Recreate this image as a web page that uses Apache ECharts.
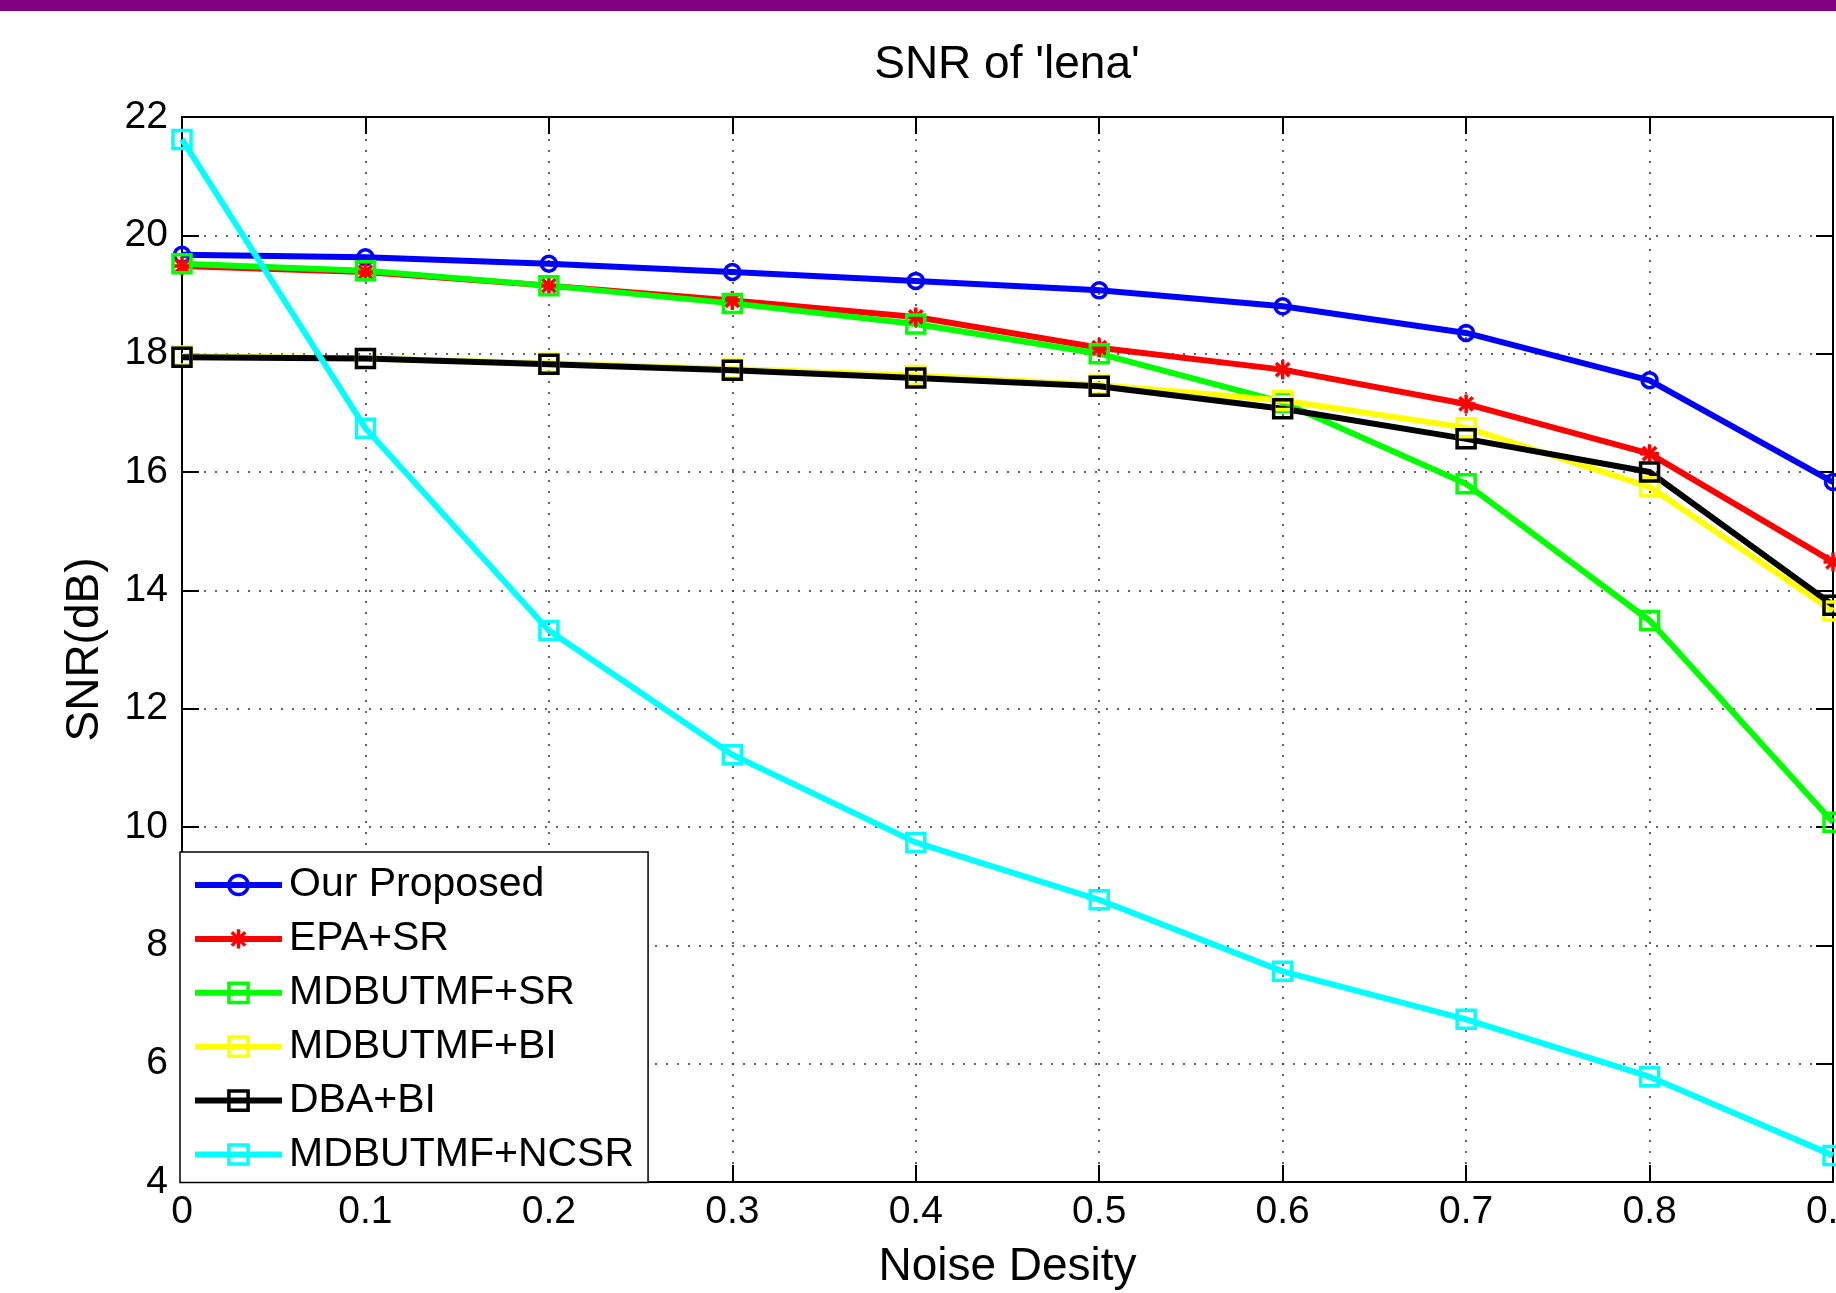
<!DOCTYPE html>
<html>
<head>
<meta charset="utf-8">
<title>SNR of 'lena'</title>
<script src="https://cdn.jsdelivr.net/npm/echarts@6.0.0/dist/echarts.min.js"></script>
<style>
  html, body { margin: 0; padding: 0; background: #fff; }
  #snrChart { width: 1836px; height: 1293px; }
</style>
</head>
<body>
<div id="snrChart"></div>
<script>
// noise density on x, SNR (dB) on y
var noiseDensity = [0, 0.1, 0.2, 0.3, 0.4, 0.5, 0.6, 0.7, 0.8, 0.9];
var ourProposed = [19.67, 19.63, 19.52, 19.38, 19.23, 19.07, 18.80, 18.35, 17.55, 15.83];
var epaSr       = [19.48, 19.38, 19.15, 18.90, 18.62, 18.10, 17.73, 17.15, 16.31, 14.48];
var mdbutmfSr   = [19.52, 19.40, 19.15, 18.85, 18.50, 18.00, 17.18, 15.80, 13.49, 10.08];
var mdbutmfBi   = [17.96, 17.92, 17.84, 17.74, 17.63, 17.47, 17.21, 16.75, 15.75, 13.65];
var dbaBi       = [17.94, 17.92, 17.82, 17.72, 17.59, 17.45, 17.07, 16.56, 16.00, 13.75];
var mdbutmfNcsr = [21.62, 16.74, 13.32, 11.22, 9.74, 8.77, 7.56, 6.75, 5.78, 4.45];

var font = "'Liberation Sans', Arial, Helvetica, sans-serif";
var asterisk = 'path://M10,0L10,20M0,10L20,10M3,3L17,17M3,17L17,3';

function pairs(ys) {
  return noiseDensity.map(function (x, i) { return [x, ys[i]]; });
}

function makeSeries(name, ys, color, symbol, size, filled) {
  return {
    name: name,
    type: 'line',
    data: pairs(ys),
    symbol: symbol,
    symbolSize: size,
    showAllSymbol: true,
    lineStyle: { color: color, width: 6 },
    itemStyle: {
      color: filled ? color : 'transparent',
      borderColor: color,
      borderWidth: 3.5
    },
    emphasis: { disabled: true }
  };
}

var frameLine = { show: true, onZero: false, lineStyle: { color: '#000', width: 2 } };
var frameTick = { show: true, inside: true, length: 17, lineStyle: { color: '#000', width: 2 } };
var dotted = { show: true, lineStyle: { type: [2, 9], color: '#333', width: 1.5 } };

var chart = echarts.init(document.getElementById('snrChart'));
chart.setOption({
  animation: false,
  backgroundColor: '#fff',
  title: {
    text: "SNR of 'lena'",
    left: 1002,
    top: 60,
    textAlign: 'center',
    textVerticalAlign: 'middle',
    textStyle: { fontFamily: font, fontSize: 46, fontWeight: 'normal', color: '#000' }
  },
  graphic: [
    { type: 'rect', left: 0, top: 0, shape: { width: 1836, height: 11 }, style: { fill: '#800080' } }
  ],
  grid: { left: 182, right: 3, top: 117, bottom: 111, containLabel: false, outerBoundsMode: 'none' },
  legend: {
    orient: 'vertical',
    left: 180,
    top: 852,
    padding: [11, 14, 6, 12],
    itemWidth: 87,
    itemHeight: 24,
    itemGap: 9.9,
    backgroundColor: '#fff',
    borderColor: '#000',
    borderWidth: 1.5,
    borderRadius: 0,
    selectedMode: false,
    itemStyle: { borderWidth: 3.5 },
    lineStyle: { width: 6 },
    textStyle: { fontFamily: font, fontSize: 41, color: '#000', lineHeight: 44, padding: [0, 0, 0, 2] }
  },
  xAxis: [
    {
      type: 'value', min: 0, max: 0.9, interval: 0.1, position: 'bottom',
      axisLine: frameLine, axisTick: frameTick, splitLine: dotted,
      axisLabel: {
        fontFamily: font, fontSize: 39, color: '#000', margin: 11,
        formatter: function (v) { return String(Math.round(v * 10) / 10); }
      },
      name: 'Noise Desity', nameLocation: 'middle', nameGap: 62,
      nameTextStyle: { fontFamily: font, fontSize: 46, color: '#000' }
    },
    {
      type: 'value', min: 0, max: 0.9, interval: 0.1, position: 'top',
      axisLine: frameLine, axisTick: frameTick,
      axisLabel: { show: false }, splitLine: { show: false }
    }
  ],
  yAxis: [
    {
      type: 'value', min: 4, max: 22, interval: 2, position: 'left',
      axisLine: frameLine, axisTick: frameTick, splitLine: dotted,
      axisLabel: { fontFamily: font, fontSize: 39, color: '#000', margin: 14 },
      name: 'SNR(dB)', nameLocation: 'middle', nameGap: 74, nameRotate: 90,
      nameTextStyle: { fontFamily: font, fontSize: 46, color: '#000' }
    },
    {
      type: 'value', min: 4, max: 22, interval: 2, position: 'right',
      axisLine: frameLine, axisTick: frameTick,
      axisLabel: { show: false }, splitLine: { show: false }
    }
  ],
  series: [
    makeSeries('Our Proposed', ourProposed, '#0000ff', 'circle', 15, false),
    makeSeries('EPA+SR', epaSr, '#ff0000', asterisk, 19, true),
    makeSeries('MDBUTMF+SR', mdbutmfSr, '#00ff00', 'rect', 18, false),
    makeSeries('MDBUTMF+BI', mdbutmfBi, '#ffff00', 'rect', 18, false),
    makeSeries('DBA+BI', dbaBi, '#000000', 'rect', 18, false),
    makeSeries('MDBUTMF+NCSR', mdbutmfNcsr, '#00ffff', 'rect', 18, false)
  ]
});
</script>
</body>
</html>
